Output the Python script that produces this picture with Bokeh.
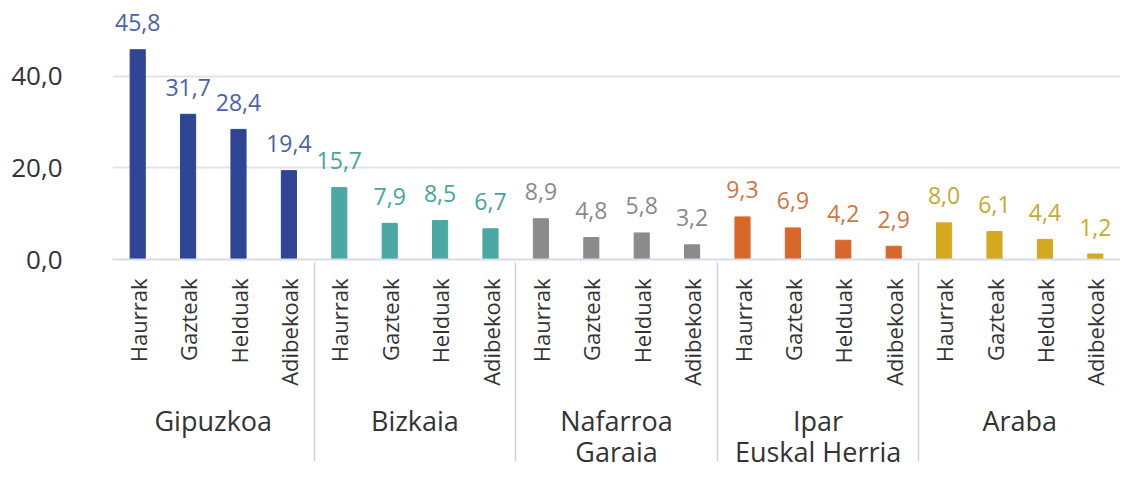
import math
from bokeh.plotting import figure
from bokeh.models import FactorRange, Range1d, ColumnDataSource, FixedTicker, BoxAnnotation
from bokeh.core.properties import value
from bokeh.embed import file_html
from bokeh.resources import INLINE

regions = ["Gipuzkoa", "Bizkaia", "Nafarroa\nGaraia", "Ipar\nEuskal Herria", "Araba"]
ages = ["Haurrak", "Gazteak", "Helduak", "Adibekoak"]
gipuzkoa = [45.8, 31.7, 28.4, 19.4]
bizkaia = [15.7, 7.9, 8.5, 6.7]
nafarroa = [8.9, 4.8, 5.8, 3.2]
ipar = [9.3, 6.9, 4.2, 2.9]
araba = [8.0, 6.1, 4.4, 1.2]
bar_colors = ["#2e4494", "#4aa9a2", "#8b8b8b", "#d9672b", "#d3aa1d"]
label_colors = ["#4a61ae", "#45a59b", "#8a8a8a", "#d07641", "#c8a92c"]
y_ticks = [0, 20, 40]

series = [gipuzkoa, bizkaia, nafarroa, ipar, araba]
xs, tops, cols, lcols, labels = [], [], [], [], []
for r, vals, c, lc in zip(regions, series, bar_colors, label_colors):
    for a, v in zip(ages, vals):
        xs.append((r, a))
        tops.append(v)
        cols.append(c)
        lcols.append(lc)
        labels.append(f"{v:.1f}".replace(".", ","))

src = ColumnDataSource(dict(x=xs, top=tops, color=cols, lcolor=lcols, label=labels))

p = figure(
    x_range=FactorRange(*xs, group_padding=0, factor_padding=0, range_padding=0),
    y_range=Range1d(0, 54.8),
    width=1120, height=475,
    output_backend="svg", toolbar_location=None,
    min_border_left=112, min_border_right=0, min_border_top=8, min_border_bottom=216,
)
p.outline_line_color = None
p.background_fill_color = "white"

p.vbar(x="x", top="top", width=0.3, color="color", source=src)
p.text(x="x", y="top", text="label", text_color="lcolor", text_align="center",
       text_baseline="middle", y_offset=-27, text_font=value("Open Sans"),
       text_font_size="23px", source=src)

sep_color = "#cdd0e2"
p.add_layout(BoxAnnotation(left=0, right=0, top=0, bottom=-60, fill_alpha=0,
                           line_color=sep_color, line_width=1.5, level="overlay"))

xa = p.xaxis[0]
xa.major_label_orientation = math.pi / 2
xa.group_label_orientation = "horizontal"
xa.major_label_text_font = "Open Sans"
xa.major_label_text_font_size = "22px"
xa.major_label_text_color = "#333333"
xa.group_text_font = "Open Sans"
xa.group_text_font_size = "27px"
xa.group_text_color = "#333333"
xa.group_text_font_style = "normal"
xa.group_text_line_height = 0.85
xa.separator_line_color = sep_color
xa.separator_line_width = 1.5
xa.axis_line_color = "#d8dbea"
xa.axis_line_width = 2
xa.major_tick_line_color = None
xa.minor_tick_line_color = None
xa.major_label_standoff = 13

ya = p.yaxis[0]
ya.ticker = FixedTicker(ticks=y_ticks)
ya.major_label_overrides = {t: f"{t:.1f}".replace(".", ",") for t in y_ticks}
ya.axis_line_color = None
ya.major_tick_line_color = None
ya.minor_tick_line_color = None
ya.major_label_text_font = "Open Sans"
ya.major_label_text_font_size = "26px"
ya.major_label_text_color = "#333333"
ya.major_label_standoff = 44

p.xgrid.grid_line_color = None
p.ygrid.ticker = FixedTicker(ticks=y_ticks)
p.ygrid.grid_line_color = "#e2e3ee"
p.ygrid.grid_line_width = 2

open("out.html", "w").write(file_html(p, INLINE))
